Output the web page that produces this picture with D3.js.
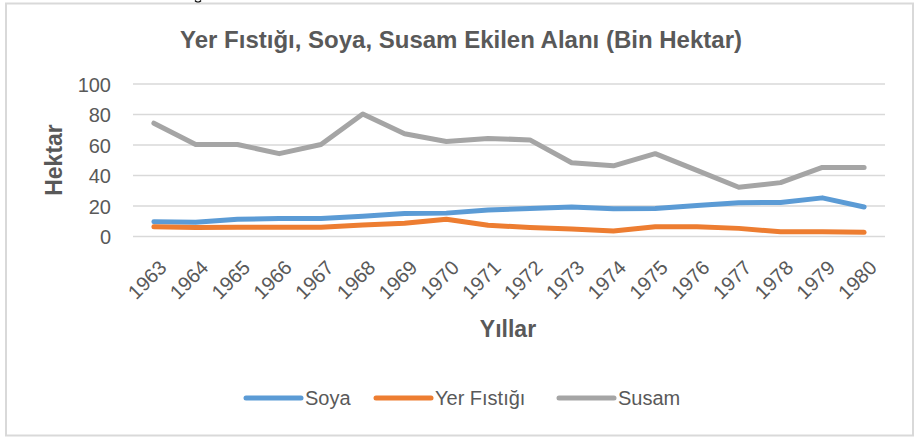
<!DOCTYPE html>
<html>
<head>
<meta charset="utf-8">
<script src="https://cdn.jsdelivr.net/npm/d3@7"></script>
<style>
  html, body { margin: 0; padding: 0; background: #fff; }
  svg { display: block; }
  text { font-family: "Liberation Sans", Arial, sans-serif; }
</style>
</head>
<body>
<svg id="chart" width="915" height="439"></svg>
<script>
const years = ["1963","1964","1965","1966","1967","1968","1969","1970","1971","1972","1973","1974","1975","1976","1977","1978","1979","1980"];
const soya = [9.4, 9, 11, 11.5, 11.5, 13, 14.8, 15, 17, 18, 19, 17.8, 18, 20, 21.8, 22, 25, 19];
const yerFistigi = [6, 5.6, 5.7, 5.7, 5.7, 7.2, 8.3, 11, 7, 5.6, 4.6, 3.3, 6, 6, 5, 2.8, 2.8, 2.4];
const susam = [74, 60, 60, 54, 60, 80, 67, 62, 64, 63, 48, 46, 54, 43, 32, 35, 45, 45];
const yTicks = [0, 20, 40, 60, 80, 100];
const seriesNames = ["Soya", "Yer Fıstığı", "Susam"];
const seriesColors = ["#5B9BD5", "#ED7D31", "#A5A5A5"];
const titleText = "Yer Fıstığı, Soya, Susam Ekilen Alanı (Bin Hektar)";
const yTitle = "Hektar";
const xTitle = "Yıllar";

(function () {
const series = [
  { name: seriesNames[0], values: soya, color: seriesColors[0] },
  { name: seriesNames[1], values: yerFistigi, color: seriesColors[1] },
  { name: seriesNames[2], values: susam, color: seriesColors[2] }
];

const svg = d3.select("#chart");
const textColor = "#595959";

// bit of a glyph descender from page text above the chart (decorative)
svg.append("path").attr("d", "M195,0.5 Q198,4 201,0.5")
  .attr("fill", "none").attr("stroke", "#000").attr("stroke-width", 1.4);

// chart border
svg.append("rect").attr("x", 6).attr("y", 3.5).attr("width", 907).attr("height", 432)
  .attr("fill", "none").attr("stroke", "#d9d9d9").attr("stroke-width", 2);

const pLeft = 133, pRight = 885, pTop = 83.5, pBottom = 236;
const x = d3.scaleBand().domain(years).range([pLeft, pRight]);
const y = d3.scaleLinear().domain([0, 100]).range([pBottom, pTop]);
const cx = d => x(d) + x.bandwidth() / 2;

// gridlines
const yAxis = d3.axisLeft(y).tickValues(yTicks).tickSize(-(pRight - pLeft)).tickPadding(22);
const gy = svg.append("g").attr("transform", `translate(${pLeft},0)`).call(yAxis);
gy.select(".domain").remove();
gy.selectAll(".tick line").attr("stroke", "#d9d9d9").attr("stroke-width", 1.5);
gy.selectAll(".tick text").attr("fill", textColor).style("font-size", "20px")
  .style("font-family", "'Liberation Sans', Arial, sans-serif")
  .attr("dy", "0.38em");

// x axis labels
const xAxis = d3.axisBottom(x).tickSize(0).tickPadding(0);
const gx = svg.append("g").attr("transform", `translate(0,${pBottom})`).call(xAxis);
gx.select(".domain").remove();
gx.selectAll(".tick text")
  .attr("fill", textColor).style("font-size", "20px")
  .style("font-family", "'Liberation Sans', Arial, sans-serif")
  .attr("text-anchor", "end")
  .attr("y", 0).attr("dy", "0.35em")
  .attr("transform", "translate(9,28) rotate(-45)");

// lines
const line = d3.line().x((d, i) => cx(years[i])).y(d => y(d));
series.forEach(s => {
  svg.append("path").datum(s.values)
    .attr("d", line)
    .attr("fill", "none")
    .attr("stroke", s.color)
    .attr("stroke-width", 5)
    .attr("stroke-linejoin", "round")
    .attr("stroke-linecap", "round");
});

// title
svg.append("text").attr("x", 461).attr("y", 48).attr("text-anchor", "middle")
  .attr("fill", textColor).style("font-size", "24px").style("font-weight", "bold")
  .text(titleText);

// axis titles
svg.append("text").attr("transform", "translate(62,160) rotate(-90)")
  .attr("text-anchor", "middle").attr("fill", textColor)
  .style("font-size", "23px").style("font-weight", "bold").text(yTitle);
svg.append("text").attr("x", 508).attr("y", 337).attr("text-anchor", "middle")
  .attr("fill", textColor).style("font-size", "23px").style("font-weight", "bold").text(xTitle);

// legend
const legendX = [246, 376, 559];
series.forEach((s, i) => {
  const g = svg.append("g").attr("transform", `translate(${legendX[i]},398)`);
  g.append("line").attr("x1", 0).attr("x2", 55).attr("y1", 0).attr("y2", 0)
    .attr("stroke", s.color).attr("stroke-width", 5).attr("stroke-linecap", "round");
  g.append("text").attr("x", 59).attr("y", 7).attr("fill", textColor)
    .style("font-size", "20px").text(s.name);
});
})();
</script>
</body>
</html>
